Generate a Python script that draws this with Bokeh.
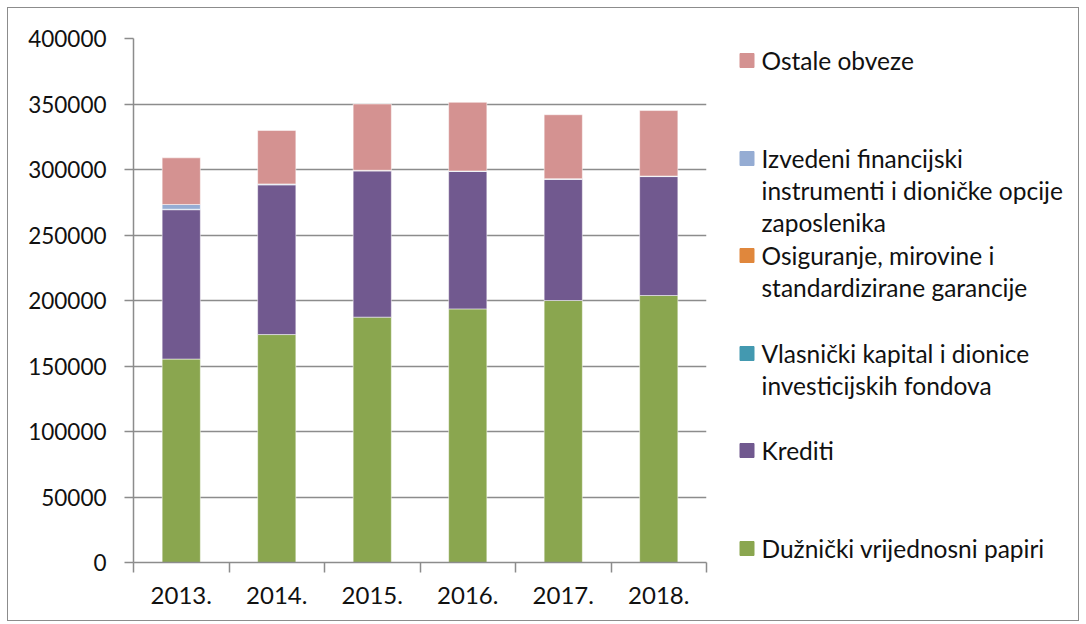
from bokeh.plotting import figure
from bokeh.layouts import row
from bokeh.models import Range1d, FixedTicker, ColumnDataSource
from bokeh.core.properties import value
from bokeh.embed import file_html
from bokeh.resources import INLINE

years = ["2013.", "2014.", "2015.", "2016.", "2017.", "2018."]
series = ["Dužnički vrijednosni papiri", "Krediti", "Vlasnički kapital i dionice investicijskih fondova",
          "Osiguranje, mirovine i standardizirane garancije",
          "Izvedeni financijski instrumenti i dioničke opcije zaposlenika", "Ostale obveze"]
duznicki = [155300, 174000, 187300, 193600, 200000, 203800]
krediti = [114000, 114300, 111700, 104900, 92600, 90800]
vlasnicki = [300, 200, 100, 100, 100, 100]
osiguranje = [100, 100, 100, 100, 100, 100]
izvedeni = [3600, 400, 200, 200, 200, 200]
ostale = [35600, 40800, 50600, 52400, 48800, 50000]
colors = ["#8AA64F", "#71598F", "#4399B0", "#E0873C", "#95ACD3", "#D49291"]
y_ticks = [0, 50000, 100000, 150000, 200000, 250000, 300000, 350000, 400000]

# legend layout (multi-line labels)
legend_lines = [
    ["Ostale obveze"],
    ["Izvedeni financijski", "instrumenti i dioničke opcije", "zaposlenika"],
    ["Osiguranje, mirovine i", "standardizirane garancije"],
    ["Vlasnički kapital i dionice", "investicijskih fondova"],
    ["Krediti"],
    ["Dužnički vrijednosni papiri"],
]
legend_colors = ["#D49291", "#95ACD3", "#E0873C", "#4399B0", "#71598F", "#8AA64F"]
legend_first_y = [52, 150, 247, 345, 442, 540]
line_step = 32

FONT = "Lato"
GRID = "#8c8c8c"
TOP, FH, BOT = 30, 524, 58

xs = [i + 0.5 for i in range(len(years))]
keys = ["d", "k", "v", "o", "i", "s"]
src = ColumnDataSource(dict(x=xs, d=duznicki, k=krediti, v=vlasnicki, o=osiguranje, i=izvedeni, s=ostale))

p = figure(frame_width=573, frame_height=FH, min_border_left=125, min_border_right=14,
           min_border_top=TOP, min_border_bottom=BOT,
           x_range=Range1d(0, len(years)), y_range=Range1d(0, 400000),
           output_backend="svg", toolbar_location=None)
p.vbar_stack(keys, x="x", width=0.4, source=src, color=colors, line_color="white", line_alpha=0.5, line_width=1)

p.outline_line_color = None
p.xgrid.grid_line_color = None
p.ygrid.grid_line_color = GRID
p.ygrid.grid_line_width = 1.5
p.ygrid.ticker = FixedTicker(ticks=y_ticks)

p.yaxis.ticker = FixedTicker(ticks=y_ticks, minor_ticks=[])
p.yaxis.major_tick_out = 9
p.yaxis.major_tick_in = 0
p.yaxis.major_label_standoff = 18
p.yaxis.formatter.use_scientific = False

p.xaxis.ticker = FixedTicker(ticks=xs, minor_ticks=list(range(len(years) + 1)))
p.xaxis.major_label_overrides = {x: y for x, y in zip(xs, years)}
p.xaxis.major_tick_out = 0
p.xaxis.major_tick_in = 0
p.xaxis.minor_tick_out = 10
p.xaxis.minor_tick_in = 0
p.xaxis.minor_tick_line_color = GRID
p.xaxis.minor_tick_line_width = 1.5
p.xaxis.major_label_standoff = 14

for ax in (p.xaxis, p.yaxis):
    ax.axis_line_color = GRID
    ax.axis_line_width = 1.5
    ax.major_tick_line_color = GRID
    ax.major_tick_line_width = 1.5
    ax.major_label_text_font = FONT
    ax.major_label_text_color = "#111111"
p.yaxis.major_label_text_font_size = "22.5px"
p.xaxis.major_label_text_font_size = "24px"

leg = figure(width=358, frame_height=FH, min_border_left=0, min_border_right=0,
             min_border_top=TOP, min_border_bottom=BOT,
             x_range=Range1d(0, 358), y_range=Range1d(TOP + FH, TOP),
             x_axis_type=None, y_axis_type=None,
             output_backend="svg", toolbar_location=None)
leg.outline_line_color = None
leg.grid.visible = False
sq_y, tx, ty = [], [], []
for lines, y0 in zip(legend_lines, legend_first_y):
    sq_y.append(y0)
    for j, t in enumerate(lines):
        tx.append(t)
        ty.append(y0 + j * line_step)
leg.rect(x=[26.5] * len(sq_y), y=sq_y, width=14, height=14, width_units="screen",
         height_units="screen", color=legend_colors)
leg.text(x=[41] * len(tx), y=ty, text=tx, text_baseline="middle", text_font=value(FONT),
         text_font_size="24.5px", text_color="#111111")

layout = row(p, leg, styles={"border": "1px solid #8c8c8c", "margin-left": "7px", "margin-top": "7px"})
open("out.html", "w").write(file_html(layout, INLINE))
